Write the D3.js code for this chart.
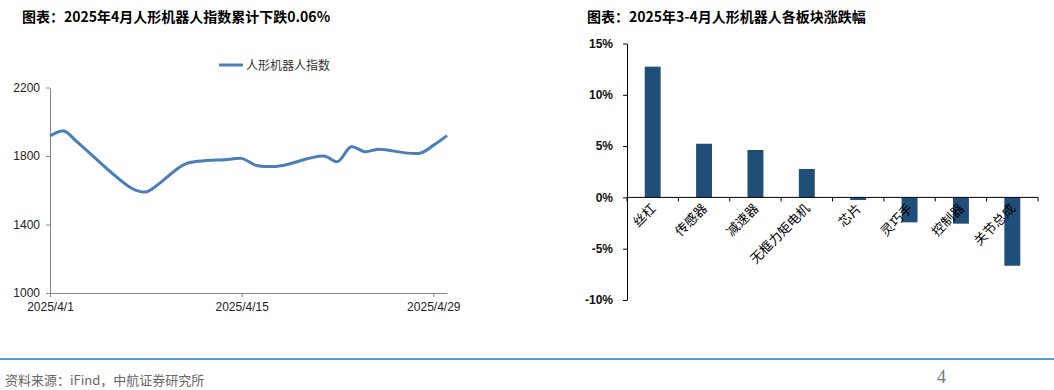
<!DOCTYPE html>
<html>
<head>
<meta charset="utf-8">
<script src="https://cdn.jsdelivr.net/npm/d3@7/dist/d3.min.js"></script>
<style>
  body { margin: 0; background: #fff; }
  svg { display: block; font-family: Arial, "Liberation Sans", "Noto Sans CJK SC", sans-serif; }
  .title { font-family: "Noto Sans CJK SC", sans-serif; font-weight: bold; font-size: 14px; fill: #000; }
</style>
</head>
<body>
<svg id="chart" width="1054" height="390"></svg>
<script>
// left chart: index closes, April 2025 trading days
var indexDates = ['2025-04-01', '2025-04-02', '2025-04-03', '2025-04-07', '2025-04-08',
  '2025-04-09', '2025-04-10', '2025-04-11', '2025-04-14', '2025-04-15', '2025-04-16',
  '2025-04-17', '2025-04-18', '2025-04-21', '2025-04-22', '2025-04-23', '2025-04-24',
  '2025-04-25', '2025-04-28', '2025-04-29', '2025-04-30'];
var indexValues = [1917, 1946, 1881, 1610, 1590, 1640, 1707, 1757, 1780, 1786, 1747,
  1738, 1745, 1800, 1767, 1854, 1825, 1839, 1816, 1862, 1919];
var indexTicks = [1000, 1400, 1800, 2200];
var dateTicks = ['2025-04-01', '2025-04-15', '2025-04-29'];

// right chart: sector changes, %
var sectors = ['丝杠', '传感器', '减速器', '无框力矩电机', '芯片', '灵巧手', '控制器', '关节总成'];
var sectorChanges = [12.74, 5.23, 4.62, 2.77, -0.25, -2.43, -2.56, -6.66];
var pctTicks = [-10, -5, 0, 5, 10, 15];

var svg = d3.select('#chart');
var parse = d3.timeParse('%Y-%m-%d');

// titles
svg.append('text').attr('class', 'title').attr('x', 22).attr('y', 22)
  .text('图表：2025年4月人形机器人指数累计下跌0.06%');
svg.append('text').attr('class', 'title').attr('x', 587).attr('y', 22)
  .text('图表：2025年3-4月人形机器人各板块涨跌幅');

// ---- left line chart ----
var x = d3.scaleTime()
  .domain([parse('2025-04-01'), parse('2025-04-30')])
  .range([50, 447]);
var y = d3.scaleLinear().domain([1000, 2200]).range([293, 87.5]);

var left = svg.append('g');

var yAxis = left.append('g')
  .attr('transform', 'translate(50,0)')
  .call(d3.axisLeft(y).tickValues(indexTicks).tickSize(4).tickSizeOuter(0).tickPadding(6)
    .tickFormat(d3.format('d')));
var xAxis = left.append('g')
  .attr('transform', 'translate(0,293)')
  .call(d3.axisBottom(x).tickValues(dateTicks.map(parse)).tickSize(4).tickSizeOuter(0)
    .tickPadding(5).tickFormat(d3.timeFormat('%Y/%-m/%-d')));
[yAxis, xAxis].forEach(function (a) {
  a.select('.domain').attr('stroke', '#888');
  a.selectAll('.tick line').attr('stroke', '#888');
  a.selectAll('text').attr('font-size', 12).attr('fill', '#222')
    .attr('font-family', 'Arial, "Liberation Sans", sans-serif');
});

var line = d3.line()
  .x(function (d, i) { return x(parse(indexDates[i])); })
  .y(function (d) { return y(d); })
  .curve(d3.curveCatmullRom.alpha(0.5));

left.append('path')
  .datum(indexValues)
  .attr('d', line)
  .attr('fill', 'none')
  .attr('stroke', '#4A7EBB')
  .attr('stroke-width', 3)
  .attr('stroke-linejoin', 'round');

// legend
left.append('line').attr('x1', 219).attr('x2', 243).attr('y1', 65).attr('y2', 65)
  .attr('stroke', '#4A7EBB').attr('stroke-width', 3);
left.append('text').attr('x', 246).attr('y', 69.5)
  .attr('font-size', 12).attr('fill', '#333')
  .attr('font-family', '"Noto Sans CJK SC", sans-serif')
  .text('人形机器人指数');

// ---- right bar chart ----
var xb = d3.scaleBand().domain(sectors).range([627, 1038]).paddingInner(0.69).paddingOuter(0.345);
var yb = d3.scaleLinear().domain([-10, 15]).range([300, 43.5]);

var right = svg.append('g');

right.selectAll('rect')
  .data(sectorChanges)
  .enter()
  .append('rect')
  .attr('x', function (d, i) { return xb(sectors[i]); })
  .attr('width', xb.bandwidth())
  .attr('y', function (d) { return yb(Math.max(0, d)); })
  .attr('height', function (d) { return Math.abs(yb(d) - yb(0)); })
  .attr('fill', '#1F4E79');

var ybAxis = right.append('g')
  .attr('transform', 'translate(627,0)')
  .call(d3.axisLeft(yb).tickValues(pctTicks).tickSize(4).tickSizeOuter(0).tickPadding(10)
    .tickFormat(function (d) { return d + '%'; }));
ybAxis.select('.domain').attr('stroke', '#000');
ybAxis.selectAll('.tick line').attr('stroke', '#000');
ybAxis.selectAll('text').attr('font-size', 12).attr('font-weight', 'bold').attr('fill', '#111')
  .attr('font-family', 'Arial, "Liberation Sans", sans-serif');

// category axis at zero with ticks between bars
var step = xb.step();
var xbAxis = right.append('g').attr('transform', 'translate(0,' + yb(0) + ')');
xbAxis.append('line').attr('x1', 627).attr('x2', 1038).attr('stroke', '#000');
xbAxis.selectAll('.sep')
  .data(d3.range(sectors.length + 1))
  .enter()
  .append('line')
  .attr('x1', function (i) { return 627 + i * step; })
  .attr('x2', function (i) { return 627 + i * step; })
  .attr('y1', 0).attr('y2', 4)
  .attr('stroke', '#000');

right.selectAll('.cat')
  .data(sectors)
  .enter()
  .append('text')
  .attr('class', 'cat')
  .attr('transform', function (d) {
    return 'translate(' + (xb(d) + xb.bandwidth() / 2 + 4) + ',' + (yb(0) + 12) + ') rotate(-45)';
  })
  .attr('text-anchor', 'end')
  .attr('font-size', 13)
  .attr('fill', '#000')
  .attr('font-family', '"Noto Sans CJK SC", sans-serif')
  .text(function (d) { return d; });

// footer
svg.append('line').attr('x1', 0).attr('x2', 1054).attr('y1', 359).attr('y2', 359)
  .attr('stroke', '#5B9BD5').attr('stroke-width', 2);
svg.append('text').attr('x', 5).attr('y', 385)
  .attr('font-size', 13).attr('fill', '#666')
  .attr('font-family', '"Noto Sans CJK SC", sans-serif')
  .text('资料来源：iFind，中航证券研究所');
svg.append('text').attr('x', 937).attr('y', 383)
  .attr('font-size', 18).attr('fill', '#777')
  .attr('font-family', '"Liberation Serif", "DejaVu Serif", serif')
  .text('4');
</script>
</body>
</html>
